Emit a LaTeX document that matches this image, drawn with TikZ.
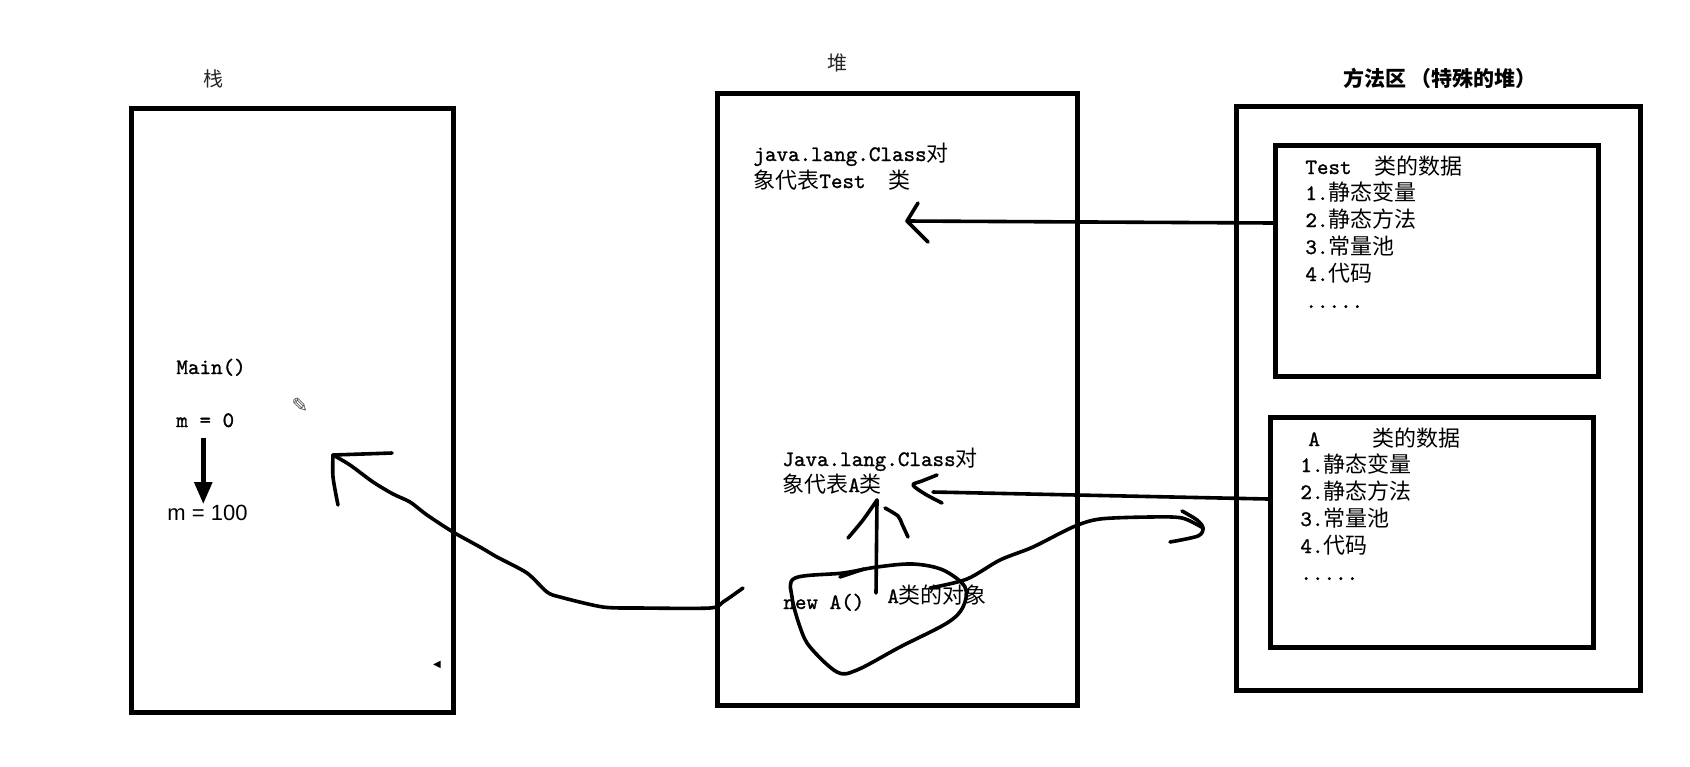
\documentclass[tikz,border=0pt]{standalone}
\usepackage{fontspec}
\setmonofont[FakeBold=1.2]{Latin Modern Mono}
\newfontfamily\zhfont{Noto Sans CJK SC}
\newfontfamily\symfont{DejaVu Sans}
\newfontfamily\arialfont{Liberation Sans}
\usetikzlibrary{arrows.meta}
\newcommand\zh[1]{{\zhfont #1}}
\begin{document}
\begin{tikzpicture}[x=0.5pt,y=-0.5pt,
  box/.style={draw, line width=2.3pt, inner sep=0pt, anchor=north west},
  txt/.style={inner sep=0pt, anchor=base west, font=\fontsize{11}{13.5}\selectfont\ttfamily},
  lbl/.style={inner sep=0pt, font=\fontsize{10}{12}\selectfont\zhfont, text=black!85},
  hand/.style={line width=1.8pt, line cap=round, line join=round},
  fatarrow/.style={line width=2.5pt, -{Triangle[length=11pt,width=8.5pt]}}]
\useasboundingbox (0,0) rectangle (1690,766);

% boxes
\node[box, minimum width=161pt, minimum height=302pt] (stack) at (129,106) {};
\node[box, minimum width=180pt, minimum height=306pt] (heap) at (715,91) {};
\node[box, minimum width=202pt, minimum height=292pt] (meth) at (1234,104) {};
\node[box, minimum width=161.5pt, minimum height=115.5pt] (testbox) at (1273,143) {};
\node[box, minimum width=161.5pt, minimum height=115pt] (abox) at (1268,415) {};

% titles
\node[lbl] (lblstack) at (213,79) {栈};
\node[lbl] (lblheap) at (837,63) {堆};
\node[lbl, font=\fontsize{10.5}{12}\selectfont\zhfont\bfseries, text=black] (lblmeth) at (1440,78) {方法区 （特殊的堆）};

% stack contents
\node[txt] (tmain) at (176,374) {Main()};
\node[txt] (tm0) at (176,427) {m = 0};
\node[txt, font=\fontsize{11}{13}\selectfont\arialfont] (tm100) at (167,520) {m = 100};
\draw[fatarrow] ([xshift=-1pt,yshift=-5pt]tm0.south) -- ([xshift=-1pt]tm0.south |- tm100.north);
\node[inner sep=0pt, font=\fontsize{10}{10}\selectfont\symfont, text=black!70] (pencil) at (300,405) {✎};
\node[inner sep=0pt, font=\fontsize{5}{5}\selectfont\symfont] (tri) at (437,665) {◀};

% heap contents
\node[txt] (h1a) at (753,161) {java.lang.Class\zh{对}};
\node[txt] (h1b) at (753,188) {\zh{象代表}Test~~\zh{类}};
\node[txt] (h2a) at (782,466) {Java.lang.Class\zh{对}};
\node[txt] (h2b) at (782,492) {\zh{象代表}A\zh{类}};
\node[txt] (hnew) at (783,609) {new A()};
\node[txt] (hobj) at (887,603) {A\zh{类的对象}};

% method area: Test
\node[txt] (t0) at (1305,174) {Test~~\zh{类的数据}};
\node[txt] (t1) at (1305,200) {1.\zh{静态变量}};
\node[txt] (t2) at (1305,227) {2.\zh{静态方法}};
\node[txt] (t3) at (1305,254) {3.\zh{常量池}};
\node[txt] (t4) at (1305,281) {4.\zh{代码}};
\node[txt] (t5) at (1305,308) {.....};

% method area: A
\node[txt] (a0) at (1308,446) {A\hspace{26.5pt}\zh{类的数据}};
\node[txt] (a1) at (1300,472) {1.\zh{静态变量}};
\node[txt] (a2) at (1300,499) {2.\zh{静态方法}};
\node[txt] (a3) at (1300,526) {3.\zh{常量池}};
\node[txt] (a4) at (1300,553) {4.\zh{代码}};
\node[txt] (a5) at (1300,580) {.....};

% coordinates for hand-drawn connectors
\coordinate (s1) at (testbox.west |- 0,223);
\coordinate (tip1) at (907,221);
\coordinate (s2) at (abox.west |- 0,499);
\coordinate (tip2) at (913,485);
\coordinate (src3) at (743,588);
\coordinate (tip3) at (333,455);
\coordinate (tip4) at (877,500);
\coordinate (tip5) at (1203,528);

% Test data -> Class object
\draw[hand] (s1) -- (tip1);
\draw[hand] (918,203) -- (tip1) -- (928,242);

% A data -> Class object
\draw[hand] (s2) -- (933,492);
\draw[hand] plot[smooth, tension=0.5] coordinates {(937,475) (922,481) (tip2) (925,494) (942,503)};

% heap object -> stack
\draw[hand] plot[smooth, tension=0.45] coordinates {(src3) (723,602) (710,608) (640,608) (603,607) (560,597) (547,592) (527,573) (497,557) (480,547) (453,532) (427,515) (410,502) (393,494) (373,482) (350,465) (tip3)};
\draw[hand] (392,453) -- (tip3);
\draw[hand] plot[smooth, tension=0.5] coordinates {(tip3) (333,477) (338,505)};

% object -> class object (vertical)
\draw[hand] (876,593) -- (tip4);
\draw[hand] plot[smooth, tension=0.5] coordinates {(tip4) (863,520) (848,538)};
\draw[hand] plot[smooth, tension=0.5] coordinates {(885,508) (898,516) (902,524) (908,537)};

% blob around object
\draw[hand] plot[smooth cycle, tension=0.55] coordinates {(795,578) (843,573) (877,567) (913,564) (943,570) (965,587) (963,607) (947,623) (900,647) (857,670) (837,672) (810,647) (800,627) (792,597)};
\draw[hand] (840,577) -- (864,569);

% object -> method area
\draw[hand] plot[smooth, tension=0.5] coordinates {(930,588) (967,579) (1000,560) (1033,547) (1073,527) (1100,519) (1150,517) (1182,518) (tip5)};
\draw[hand] plot[smooth, tension=0.5] coordinates {(1182,511) (1197,520) (tip5) (1198,536) (1170,542)};
\end{tikzpicture}
\end{document}
